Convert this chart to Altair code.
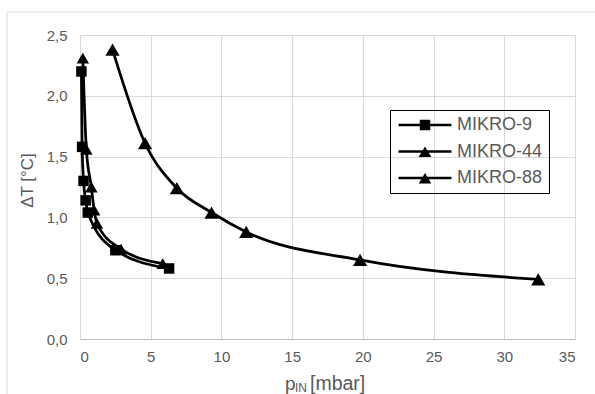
import altair as alt
import pandas as pd

FONT = "Liberation Sans"
GRAY = "#595959"

series = ["MIKRO-9", "MIKRO-44", "MIKRO-88"]
x_m9 = [0.1, 0.15, 0.25, 0.4, 0.55, 2.5, 6.3]
y_m9 = [2.2, 1.58, 1.3, 1.14, 1.04, 0.73, 0.58]
x_m44 = [0.2, 0.45, 0.8, 1.0, 1.2, 2.9, 5.85]
y_m44 = [2.31, 1.56, 1.25, 1.06, 0.95, 0.74, 0.62]
x_m88 = [2.3, 4.6, 6.85, 9.3, 11.75, 19.8, 32.4]
y_m88 = [2.38, 1.61, 1.24, 1.04, 0.88, 0.65, 0.49]
x_ticks = [0, 5, 10, 15, 20, 25, 30, 35]
y_ticks = [0.0, 0.5, 1.0, 1.5, 2.0, 2.5]
y_title = "ΔT [°C]"
x_title_parts = ["p", "IN", "[mbar]"]

rows = []
for name, xs, ys in [(series[0], x_m9, y_m9), (series[1], x_m44, y_m44), (series[2], x_m88, y_m88)]:
    for xv, yv in zip(xs, ys):
        rows.append({"series": name, "p": xv, "dT": yv})
df = pd.DataFrame(rows)

W, H = 495, 304

xenc = alt.X("p:Q", scale=alt.Scale(domain=[0, 35], nice=False, zero=False),
             axis=alt.Axis(values=x_ticks, title=None, grid=True, gridColor="#d9d9d9",
                           gridWidth=1, ticks=False, domain=True, domainColor="#bfbfbf",
                           domainWidth=1, labelFont=FONT, labelFontSize=15, labelColor=GRAY,
                           labelPadding=10))
yenc = alt.Y("dT:Q", scale=alt.Scale(domain=[0, 2.5], nice=False),
             axis=alt.Axis(values=y_ticks, title=y_title, grid=True, gridColor="#d9d9d9",
                           gridWidth=1, ticks=False, domain=False,
                           labelExpr="replace(format(datum.value, '.1f'), '.', ',')",
                           labelFont=FONT, labelFontSize=15, labelColor=GRAY, labelPadding=13,
                           titleFont=FONT, titleFontSize=17, titleColor=GRAY, titleFontWeight="normal",
                           titleX=-53, titleY=145, titleAngle=270, titleAlign="center",
                           titleBaseline="middle"))

# legend symbols: line segment + marker (path units of 9 px for symbol size 324)
sq_path = "M-2.94,-0.14L2.94,-0.14L2.94,0.14L-2.94,0.14Z M-0.58,-0.58L0.58,-0.58L0.58,0.58L-0.58,0.58Z"
tri_path = "M-2.94,-0.14L2.94,-0.14L2.94,0.14L-2.94,0.14Z M0,-0.56L0.7,0.61L-0.7,0.61Z"

lines = alt.Chart(df).mark_line(color="black", strokeWidth=2.75, interpolate="monotone").encode(
    x=xenc, y=yenc, detail="series:N"
)

points = alt.Chart(df).mark_point(filled=True, opacity=1, strokeWidth=0, color="black").encode(
    x=xenc, y=yenc,
    shape=alt.Shape("series:N", scale=alt.Scale(domain=series, range=["square", "triangle-up", "triangle-up"]), legend=None),
    size=alt.Size("series:N", scale=alt.Scale(domain=series, range=[110, 200, 200]), legend=None),
)

legend_layer = alt.Chart(df).transform_filter("false").mark_point(
    filled=True, color="black", strokeWidth=0
).encode(
    x=xenc, y=yenc,
    shape=alt.Shape("series:N", scale=alt.Scale(domain=series, range=[sq_path, tri_path, tri_path]),
                    legend=alt.Legend(orient="none", legendX=310, legendY=75, title=None,
                                      labelFont=FONT, labelFontSize=18, labelColor=GRAY,
                                      padding=6, rowPadding=8.5, symbolOffset=20, labelOffset=23,
                                      strokeColor="black", symbolFillColor="black",
                                      symbolStrokeWidth=0, symbolSize=324, symbolOpacity=1)),
)

frame = alt.Chart(alt.Data(values=[{"k": 1}])).mark_rect(
    fill="transparent", stroke="#d9d9d9", strokeWidth=1
).encode(x=alt.value(-73), x2=alt.value(540), y=alt.value(-23), y2=alt.value(380))

t_p = alt.Chart(alt.Data(values=[{"t": x_title_parts[0]}])).mark_text(
    align="left", baseline="alphabetic", font=FONT, fontSize=19, color=GRAY
).encode(text="t:N", x=alt.value(205), y=alt.value(354.5))
t_in = alt.Chart(alt.Data(values=[{"t": x_title_parts[1]}])).mark_text(
    align="left", baseline="alphabetic", font=FONT, fontSize=12, color=GRAY
).encode(text="t:N", x=alt.value(215), y=alt.value(357))
t_unit = alt.Chart(alt.Data(values=[{"t": x_title_parts[2]}])).mark_text(
    align="left", baseline="alphabetic", font=FONT, fontSize=19.5, color=GRAY
).encode(text="t:N", x=alt.value(230), y=alt.value(354.5))

chart = alt.layer(frame, lines, points, legend_layer, t_p, t_in, t_unit).resolve_scale(
    shape="independent"
).properties(
    width=W, height=H,
    autosize=alt.AutoSizeParams(type="none"),
    padding={"left": 80, "top": 35, "right": 20, "bottom": 55},
    background="white",
).configure_view(stroke=None)

chart.save("out.html", embed_options={"renderer": "svg", "actions": False})
